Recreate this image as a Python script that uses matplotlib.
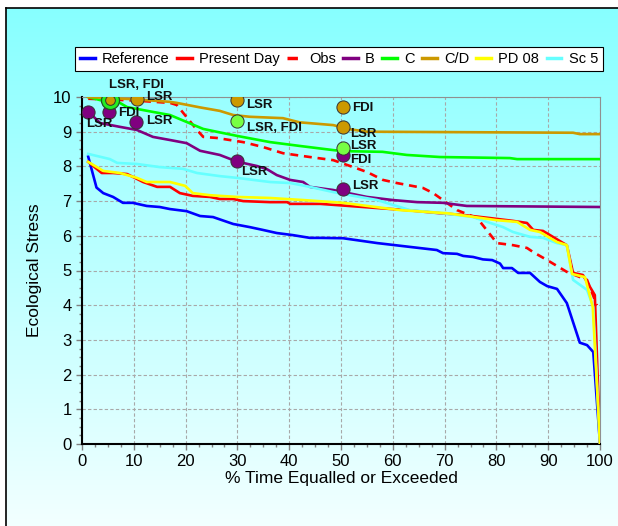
import numpy as np
import matplotlib
matplotlib.use('Agg')
import matplotlib.pyplot as plt
from matplotlib.lines import Line2D
from matplotlib.ticker import MultipleLocator

plt.rcParams['font.family'] = ['Liberation Sans', 'DejaVu Sans']

# Duration curves (percent of time equalled or exceeded vs ecological stress)
pct_ref = [1.2, 2.8, 4.1, 6.0, 7.9, 9.8, 12.5, 15.0, 17.0, 20.2, 22.8, 25.3, 29.2, 32.4, 34.9, 37.6,
           40.7, 44.0, 46.0, 50.4, 57.0, 63.3, 68.5, 69.7, 72.4, 73.6, 75.5, 77.4, 79.2, 80.7, 81.3,
           83.0, 84.2, 86.5, 88.4, 89.8, 91.7, 93.6, 96.1, 97.5, 98.7, 100]
ref = [8.28, 7.39, 7.23, 7.12, 6.95, 6.95, 6.86, 6.83, 6.77, 6.71, 6.57, 6.54, 6.34, 6.25, 6.17, 6.08,
       6.02, 5.94, 5.94, 5.93, 5.79, 5.68, 5.59, 5.5, 5.48, 5.42, 5.39, 5.32, 5.3, 5.2, 5.07,
       5.07, 4.93, 4.93, 4.67, 4.55, 4.47, 4.06, 2.92, 2.85, 2.65, 0.0]

pct_pd = [1.2, 3.8, 6.0, 8.7, 10.6, 11.8, 14.5, 17.0, 18.9, 21.4, 24.7, 26.6, 29.2, 31.1, 36.3, 39.6,
          40.2, 46.0, 57.0, 62.7, 69.1, 73.6, 78.8, 83.2, 85.9, 87.1, 89.0, 90.9, 92.9, 93.6, 94.8,
          96.7, 99.0, 100]
present = [8.13, 7.81, 7.81, 7.78, 7.64, 7.55, 7.41, 7.41, 7.23, 7.15, 7.12, 7.06, 7.06, 7.0, 6.97, 6.97,
           6.92, 6.92, 6.8, 6.74, 6.65, 6.6, 6.51, 6.43, 6.37, 6.17, 6.14, 5.97, 5.79, 5.73, 4.93,
           4.87, 4.29, 0.0]

pct_obs = [1.2, 10.0, 17.0, 18.3, 20.2, 22.2, 23.4, 26.0, 31.1, 34.9, 38.8, 44.0, 48.5, 51.2, 55.0,
           58.1, 60.8, 65.8, 67.8, 72.4, 76.3, 80.1, 83.2, 85.9, 87.1, 89.8, 93.6, 97.5, 99.4]
obs = [9.95, 9.9, 9.83, 9.77, 9.42, 9.05, 8.85, 8.82, 8.7, 8.56, 8.38, 8.27, 8.18, 8.04, 7.84,
       7.61, 7.52, 7.38, 7.23, 6.74, 6.51, 5.79, 5.73, 5.65, 5.53, 5.3, 4.96, 4.73, 4.0]

pct_b = [1.2, 3.5, 7.3, 10.6, 13.7, 17.0, 20.2, 22.8, 26.6, 29.9, 33.8, 35.7, 37.6, 40.2, 42.7, 44.0,
         48.5, 55.0, 60.0, 64.7, 69.7, 74.3, 100]
scen_b = [9.58, 9.25, 9.14, 9.05, 8.85, 8.76, 8.67, 8.45, 8.33, 8.14, 8.01, 7.92, 7.75, 7.61, 7.55, 7.41,
          7.32, 7.12, 7.03, 6.97, 6.95, 6.86, 6.83]

pct_c = [1.2, 3.5, 7.3, 8.7, 13.7, 17.0, 20.2, 23.4, 26.6, 29.9, 36.3, 42.0, 48.5, 50.4, 58.0, 62.7,
         69.1, 82.6, 84.0, 100]
scen_c = [10.0, 9.91, 9.83, 9.71, 9.57, 9.48, 9.28, 9.08, 8.98, 8.88, 8.7, 8.59, 8.47, 8.44, 8.42, 8.33,
          8.27, 8.24, 8.21, 8.21]

pct_cd = [1.2, 10.6, 17.0, 18.3, 22.8, 26.6, 29.2, 32.4, 38.8, 42.0, 48.5, 51.7, 55.0, 94.8, 96.1, 100]
scen_cd = [10.0, 9.93, 9.86, 9.83, 9.7, 9.6, 9.48, 9.43, 9.39, 9.27, 9.19, 9.07, 9.0, 8.97, 8.93, 8.93]

pct_pd08 = [1.2, 4.1, 7.3, 10.6, 12.5, 17.0, 19.9, 21.4, 24.7, 29.9, 36.3, 42.7, 50.4, 61.4, 70.5,
            74.3, 80.1, 84.0, 86.5, 88.4, 91.7, 93.6, 94.6, 97.1, 98.6, 100]
pd08 = [8.13, 7.87, 7.81, 7.67, 7.55, 7.55, 7.44, 7.23, 7.17, 7.12, 7.09, 7.03, 6.95, 6.74, 6.65,
        6.57, 6.45, 6.4, 6.17, 6.11, 5.82, 5.73, 4.9, 4.81, 3.95, 0.0]

pct_sc5 = [1.2, 5.4, 6.8, 10.6, 15.0, 19.5, 22.2, 26.6, 29.9, 36.3, 40.2, 44.0, 48.5, 51.7, 57.0,
           63.3, 69.7, 75.5, 78.2, 81.3, 83.2, 86.5, 89.0, 91.7, 93.6, 94.8, 97.5, 98.7, 100]
sc5 = [8.36, 8.21, 8.1, 8.07, 7.98, 7.93, 7.81, 7.72, 7.67, 7.55, 7.52, 7.41, 7.26, 7.17, 7.03,
       6.74, 6.65, 6.54, 6.4, 6.25, 6.11, 5.97, 5.94, 5.79, 5.73, 4.73, 4.44, 3.95, 0.0]

# Point markers with their labels
b_pts_x = [1.2, 5.3, 10.4, 29.9, 50.4, 50.4]
b_pts_y = [9.58, 9.56, 9.29, 8.15, 8.33, 7.34]
b_labels = ['LSR', 'FDI', 'LSR', 'LSR', 'FDI', 'LSR']

c_pts_x = [5.5, 29.9, 50.4]
c_pts_y = [9.91, 9.32, 8.52]
c_labels = ['LSR, FDI', 'LSR, FDI', 'LSR']

cd_pts_x = [5.5, 10.6, 29.9, 50.4, 50.4]
cd_pts_y = [9.91, 9.94, 9.91, 9.72, 9.13]
cd_labels = ['', 'LSR', 'LSR', 'FDI', 'LSR']

# label offsets in pixels (right, down) from the marker centre
b_off = [(-2, 12), (9, 1), (10, -1), (4, 11), (7, 5), (9, -3)]
c_off = [(-1, -15), (10, 7), (7, -2)]
cd_off = [(0, 0), (9, -2), (9, 4.5), (9, 1), (7, 7)]

W, H = 618, 526
fig = plt.figure(figsize=(W / 100, H / 100), dpi=100)
fig.patch.set_facecolor('white')

# gradient panel behind everything
bg = fig.add_axes([0, 0, 1, 1], zorder=-5)
grad = np.linspace(0, 1, 256)[:, None]
top = np.array([0.53, 1.0, 1.0])
bot = np.array([0.95, 1.0, 1.0])
img = top[None, None, :] * (1 - grad[:, :, None]) + bot[None, None, :] * grad[:, :, None]
fx0, fy1 = 6 / W, 1 - 8 / H
bg.imshow(img, extent=[fx0, 1, 0, fy1], aspect='auto', origin='upper')
bg.set_xlim(0, 1)
bg.set_ylim(0, 1)
bg.axis('off')
fig.add_artist(Line2D([fx0, 1], [fy1, fy1], color='black', lw=1.2, transform=fig.transFigure))
fig.add_artist(Line2D([fx0, fx0], [0, fy1], color='black', lw=1.2, transform=fig.transFigure))

ax = fig.add_axes([82 / W, 1 - 444 / H, 518 / W, 347 / H])
ax.patch.set_alpha(0)

lw = 1.9
ax.plot(pct_ref, ref, color='#0000ff', lw=lw, label='Reference', zorder=3)
ax.plot(pct_pd, present, color='#ff0000', lw=lw, label='Present Day', zorder=3)
ax.plot(pct_obs, obs, color='#ff0000', lw=lw, ls=(0, (3, 2.2)), label='Obs', zorder=3)
ax.plot(pct_b, scen_b, color='#800080', lw=lw, label='B', zorder=3)
ax.plot(pct_c, scen_c, color='#00ff00', lw=lw, label='C', zorder=3)
ax.plot(pct_cd, scen_cd, color='#cc9900', lw=lw, label='C/D', zorder=3)
ax.plot(pct_pd08, pd08, color='#ffff00', lw=lw, label='PD 08', zorder=3.2)
ax.plot(pct_sc5, sc5, color='#66ffff', lw=lw, label='Sc 5', zorder=3.1)

ax.plot(b_pts_x, b_pts_y, 'o', ms=9.5, mfc='#800080', mec='#333333', mew=0.7, zorder=5)
ax.plot(c_pts_x[:1], c_pts_y[:1], 'o', ms=13, mfc='#22ee22', mec='#225522', mew=0.9, zorder=6)
ax.plot(c_pts_x[1:], c_pts_y[1:], 'o', ms=9.5, mfc='#77ff44', mec='#333333', mew=0.7, zorder=6)
ax.plot(cd_pts_x[:1], cd_pts_y[:1], 'o', ms=7, mfc='#cc9900', mec='#333333', mew=0.7, zorder=7)
ax.plot(cd_pts_x[1:], cd_pts_y[1:], 'o', ms=9.5, mfc='#cc9900', mec='#333333', mew=0.7, zorder=7)

for xs, ys, labs, offs in [(b_pts_x, b_pts_y, b_labels, b_off),
                           (c_pts_x, c_pts_y, c_labels, c_off),
                           (cd_pts_x, cd_pts_y, cd_labels, cd_off)]:
    for x, y, t, (dx, dy) in zip(xs, ys, labs, offs):
        if t:
            ax.annotate(t, (x, y), xytext=(dx * 0.72, -dy * 0.72), textcoords='offset points',
                        ha='left', va='center', fontsize=9.5, fontweight='bold',
                        color='#111111', zorder=8)

ax.set_xlim(0, 100)
ax.set_ylim(0, 10)
ax.xaxis.set_major_locator(MultipleLocator(10))
ax.xaxis.set_minor_locator(MultipleLocator(2.5))
ax.yaxis.set_major_locator(MultipleLocator(1))
ax.yaxis.set_minor_locator(MultipleLocator(0.25))
ax.tick_params(which='major', direction='out', length=4.5, width=1, color='#808080',
               labelsize=12, pad=3)
ax.tick_params(which='minor', direction='out', length=2.2, width=1, color='#808080')
ax.grid(True, which='major', color='#a8a8a8', ls=(0, (3, 2)), lw=0.8)

for s in ['left', 'bottom']:
    ax.spines[s].set_color('black')
    ax.spines[s].set_linewidth(1.5)
for s in ['top', 'right']:
    ax.spines[s].set_color('#909090')
    ax.spines[s].set_linewidth(0.8)

ax.set_xlabel('% Time Equalled or Exceeded', fontsize=12.5, labelpad=1)
ax.set_ylabel('Ecological Stress', fontsize=12.5, labelpad=8)

leg = fig.legend(loc='lower left', bbox_to_anchor=(75 / W, 1 - 71 / H, 528 / W, 27 / H),
                 mode='expand', ncol=8, fontsize=10.5, handlelength=1.0, handletextpad=0.5,
                 columnspacing=0.6, borderaxespad=0, borderpad=0.35, frameon=True,
                 fancybox=False, edgecolor='black', framealpha=1)
leg.get_frame().set_linewidth(0.8)
for h in leg.get_lines():
    h.set_linewidth(2.5)

fig.savefig('out.png', dpi=100)
